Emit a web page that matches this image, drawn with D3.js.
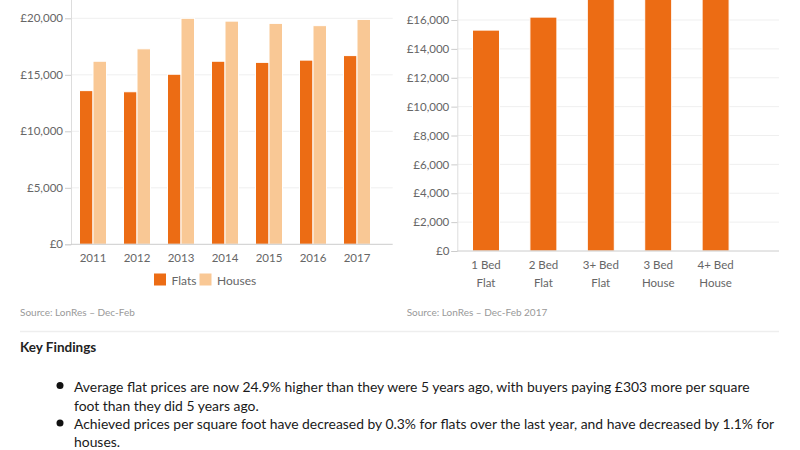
<!DOCTYPE html>
<html>
<head>
<meta charset="utf-8">
<script src="https://cdn.jsdelivr.net/npm/d3@7"></script>
<style>
  html, body { margin: 0; padding: 0; background: #fff; }
  svg { display: block; font-family: Lato, "Open Sans", sans-serif; }
</style>
</head>
<body>
<svg id="chart" width="800" height="450"></svg>
<script>
// ---- Data ----
const years = ["2011", "2012", "2013", "2014", "2015", "2016", "2017"];
const seriesNames = ["Flats", "Houses"];
const flatsValues = [13600, 13500, 15050, 16200, 16100, 16300, 16700];
const housesValues = [16200, 17300, 20000, 19750, 19550, 19350, 19900];
const leftTicks = [0, 5000, 10000, 15000, 20000];

const bedCategories = ["1 Bed Flat", "2 Bed Flat", "3+ Bed Flat", "3 Bed House", "4+ Bed House"];
const bedValues = [15300, 16200, 18900, 18600, 21400];
const rightTicks = [0, 2000, 4000, 6000, 8000, 10000, 12000, 14000, 16000];

const leftSource = "Source: LonRes \u2013 Dec-Feb";
const rightSource = "Source: LonRes \u2013 Dec-Feb 2017";
const findingsTitle = "Key Findings";
const findings = [
  ["Average flat prices are now 24.9% higher than they were 5 years ago, with buyers paying \u00a3303 more per square",
   "foot than they did 5 years ago."],
  ["Achieved prices per square foot have decreased by 0.3% for flats over the last year, and have decreased by 1.1% for",
   "houses."]
];

// ---- Styles ----
const FLAT = "#ec6c14";
const HOUSE = "#f9c895";
const GRID = "#efefef";
const AXIS = "#cccccc";
const LABEL = "#666666";
const fmt = d => "\u00a3" + d3.format(",")(d);

const svg = d3.select("#chart");
svg.append("rect").attr("width", 800).attr("height", 450).attr("fill", "#fff");

// ================= Left chart =================
const L = { left: 71, right: 392.7, bandEnd: 379, base: 244.3, top: -38.2 };
const xL = d3.scaleBand().domain(years).range([L.left, L.bandEnd]).paddingInner(0.386).paddingOuter(0.193);
const x1 = d3.scaleBand().domain(seriesNames).range([0, xL.bandwidth()]);
const yL = d3.scaleLinear().domain([0, 25000]).range([L.base, L.top]);

const gL = svg.append("g");
gL.selectAll("line.grid").data(leftTicks.filter(d => d > 0)).join("line")
  .attr("x1", L.left).attr("x2", L.right)
  .attr("y1", d => yL(d)).attr("y2", d => yL(d))
  .attr("stroke", GRID).attr("stroke-width", 1);

const yAxisL = gL.append("g").attr("transform", `translate(${L.left},0)`)
  .call(d3.axisLeft(yL).tickValues(leftTicks).tickSize(6).tickPadding(2).tickFormat(fmt));
yAxisL.select(".domain").attr("stroke", "#dddddd");
yAxisL.selectAll(".tick line").attr("stroke", AXIS);
yAxisL.selectAll(".tick text").attr("fill", LABEL).attr("font-size", "11.5px").attr("font-family", "Lato");

const groups = years.map((y, i) => ({ year: y, vals: [flatsValues[i], housesValues[i]] }));
const gBars = gL.append("g");
groups.forEach(g => {
  gBars.selectAll(null).data(g.vals).join("rect")
    .attr("x", (d, j) => xL(g.year) + x1(seriesNames[j]))
    .attr("width", x1.bandwidth())
    .attr("y", d => yL(d))
    .attr("height", d => yL(0) - yL(d))
    .attr("fill", (d, j) => j === 0 ? FLAT : HOUSE)
    .attr("stroke", "#fff").attr("stroke-width", 1);
});

gL.append("line").attr("x1", L.left).attr("x2", L.right)
  .attr("y1", L.base).attr("y2", L.base).attr("stroke", AXIS);

const xAxisL = gL.append("g").attr("transform", `translate(0,${L.base})`)
  .call(d3.axisBottom(xL).tickSize(0).tickPadding(10));
xAxisL.select(".domain").remove();
xAxisL.selectAll(".tick text").attr("fill", LABEL).attr("font-size", "11.5px").attr("font-family", "Lato");

// Legend
const legend = svg.append("g");
const legendItems = [
  { name: seriesNames[0], color: FLAT, x: 154 },
  { name: seriesNames[1], color: HOUSE, x: 199.5 }
];
legend.selectAll("rect").data(legendItems).join("rect")
  .attr("x", d => d.x).attr("y", 273.5).attr("width", 12).attr("height", 12)
  .attr("fill", d => d.color);
legend.selectAll("text").data(legendItems).join("text")
  .attr("x", d => d.x + 17.5).attr("y", 285.3)
  .attr("fill", LABEL).attr("font-size", "12px").text(d => d.name);

svg.append("text").attr("x", 20).attr("y", 316).attr("fill", "#999")
  .attr("font-size", "10px").text(leftSource);

// ================= Right chart =================
const R = { left: 457.3, right: 779, bandEnd: 744.3, base: 251, top: -37.75 };
const xR = d3.scaleBand().domain(bedCategories).range([R.left, R.bandEnd]).paddingInner(0.53).paddingOuter(0.265);
const yR = d3.scaleLinear().domain([0, 20000]).range([R.base, R.top]);

const gR = svg.append("g");
gR.selectAll("line.grid").data(rightTicks.filter(d => d > 0)).join("line")
  .attr("x1", R.left).attr("x2", R.right)
  .attr("y1", d => yR(d)).attr("y2", d => yR(d))
  .attr("stroke", GRID).attr("stroke-width", 1);

const yAxisR = gR.append("g").attr("transform", `translate(${R.left},0)`)
  .call(d3.axisLeft(yR).tickValues(rightTicks).tickSize(6).tickPadding(2).tickFormat(fmt));
yAxisR.select(".domain").attr("stroke", "#dddddd");
yAxisR.selectAll(".tick line").attr("stroke", AXIS);
yAxisR.selectAll(".tick text").attr("fill", LABEL).attr("font-size", "11.5px").attr("font-family", "Lato");

gR.selectAll("rect.bar").data(bedCategories.map((c, i) => ({ c, v: bedValues[i] }))).join("rect")
  .attr("x", d => xR(d.c)).attr("width", xR.bandwidth())
  .attr("y", d => yR(d.v)).attr("height", d => yR(0) - yR(d.v))
  .attr("fill", FLAT).attr("stroke", "#fff").attr("stroke-width", 1);

gR.append("line").attr("x1", R.left).attr("x2", R.right)
  .attr("y1", R.base).attr("y2", R.base).attr("stroke", AXIS);

const xAxisR = gR.append("g").attr("transform", `translate(0,${R.base})`)
  .call(d3.axisBottom(xR).tickSize(0).tickPadding(10).tickFormat(""));
xAxisR.select(".domain").remove();
xAxisR.selectAll(".tick").each(function(d) {
  const idx = d.lastIndexOf(" ");
  const lines = [d.slice(0, idx), d.slice(idx + 1)];
  const t = d3.select(this).select("text").attr("fill", LABEL).attr("font-size", "11.5px")
    .attr("font-family", "Lato").attr("dy", null).attr("y", 0);
  t.selectAll("tspan").data(lines).join("tspan")
    .attr("x", 0).attr("y", (l, k) => 18.2 + k * 17.3).text(l => l);
});

svg.append("text").attr("x", 406.7).attr("y", 316).attr("fill", "#999")
  .attr("font-size", "10px").text(rightSource);

// ================= Key findings =================
svg.append("line").attr("x1", 20).attr("x2", 779).attr("y1", 331.5).attr("y2", 331.5)
  .attr("stroke", "#eeeeee").attr("stroke-width", 1.5);

svg.append("text").attr("x", 20).attr("y", 352).attr("fill", "#222")
  .attr("font-size", "13.5px").attr("font-weight", "bold").text(findingsTitle);

const fb = svg.append("g");
const lineBase = [[391.5, 410.5], [429, 446.5]];
findings.forEach((item, i) => {
  fb.append("circle").attr("cx", 60).attr("cy", lineBase[i][0] - 6).attr("r", 3.5).attr("fill", "#111");
  item.forEach((line, k) => {
    fb.append("text").attr("class", "finding").attr("x", 74).attr("y", lineBase[i][k])
      .attr("fill", "#1a1a1a").attr("font-size", "13px").text(line);
  });
});
// fit font size so the first line spans the reference width
const first = fb.select("text.finding").node();
const w = first.getComputedTextLength();
const fs = 13 * 676 / w;
fb.selectAll("text.finding").attr("font-size", fs.toFixed(2) + "px");
</script>
</body>
</html>
